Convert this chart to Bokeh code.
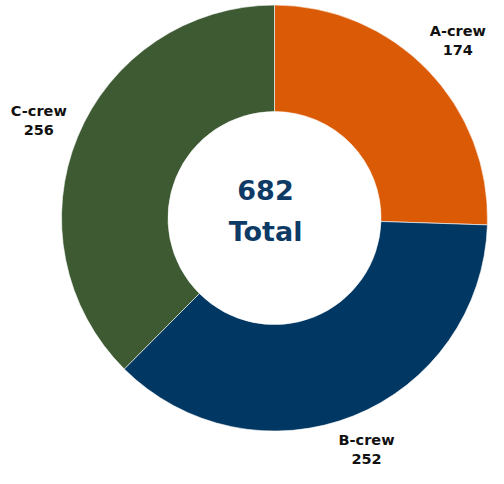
import numpy as np
from bokeh.plotting import figure
from bokeh.models import Range1d, ColumnDataSource
from bokeh.core.properties import value
from bokeh.embed import file_html
from bokeh.resources import INLINE

# ---- data ----
categories = ["A-crew", "B-crew", "C-crew"]
counts = [174, 252, 256]
center_caption = "Total"

# ---- styles ----
palette = ["#DB5A06", "#003763", "#3D5A33"]
label_color = "#111111"
center_color = "#0E3B66"
FONT = "DejaVu Sans"

cx, cy = 283.0, -225.0
r_out, r_in = 220.0, 110.0

vals = np.array(counts, dtype=float)
total = vals.sum()
frac = vals / total
cum_end = np.cumsum(frac)
cum_start = cum_end - frac
start = np.pi / 2 - 2 * np.pi * cum_start
end = np.pi / 2 - 2 * np.pi * cum_end
mid = (start + end) / 2

src = ColumnDataSource(dict(cat=categories, val=counts, start=start, end=end,
                            color=palette))

p = figure(width=488, height=468, output_backend="svg", toolbar_location=None,
           x_range=Range1d(0, 504), y_range=Range1d(-484, 0), min_border=0)
p.axis.visible = False
p.grid.visible = False
p.outline_line_color = None
p.background_fill_color = "white"
p.border_fill_color = "white"

p.annular_wedge(x=cx, y=cy, inner_radius=r_in, outer_radius=r_out,
                start_angle="start", end_angle="end", direction="clock",
                fill_color="color", line_color="white", line_width=0.6,
                source=src)

# label placement: outside the ring along the mid angle, offset by the text box extent
hw, hh, gap = 30.0, 20.0, 8.0
dx, dy = np.cos(mid), np.sin(mid)
support = hw * np.abs(dx) + hh * np.abs(dy)
lr = r_out + gap + support
lx = cx + lr * dx
ly = cy + lr * dy

lab = ColumnDataSource(dict(x=lx, y=ly, cat=categories,
                            val=[str(v) for v in counts]))
common = dict(text_font=value(FONT), text_font_style="bold",
              text_font_size="14.5px", text_color=label_color,
              text_align="center", text_baseline="middle", source=lab)
p.text(x="x", y="y", text="cat", y_offset=-10, **common)
p.text(x="x", y="y", text="val", y_offset=9.5, **common)

# centre total
p.text(x=[cx], y=[cy], text=[str(int(total))], x_offset=-9, y_offset=-28,
       text_font=value(FONT), text_font_style="bold", text_font_size="27px",
       text_color=center_color, text_align="center", text_baseline="middle")
p.text(x=[cx], y=[cy], text=[center_caption], x_offset=-9, y_offset=13,
       text_font=value(FONT), text_font_style="bold", text_font_size="27px",
       text_color=center_color, text_align="center", text_baseline="middle")

open("out.html", "w").write(file_html(p, INLINE))
